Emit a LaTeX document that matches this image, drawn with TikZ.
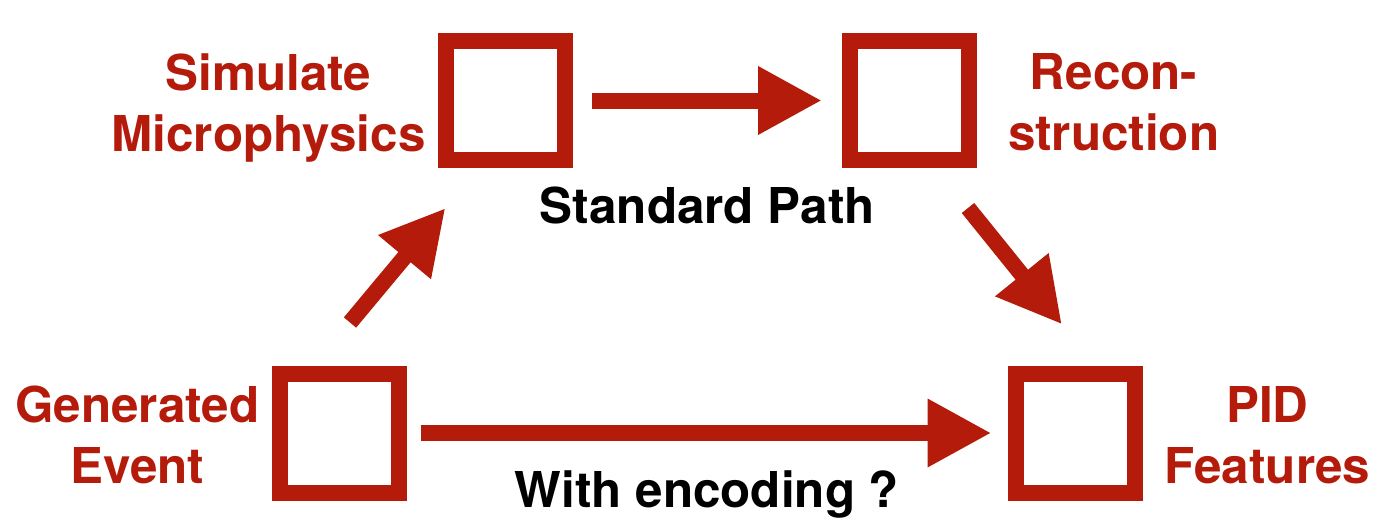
\documentclass[tikz,border=0pt]{standalone}
\usepackage{fontspec}
\setmainfont{TeX Gyre Heros}
\usetikzlibrary{arrows.meta,positioning,calc}
\definecolor{boxred}{RGB}{181,27,11}

\begin{document}
\begin{tikzpicture}[x=0.5pt,y=-0.5pt,
        stage/.style={draw=boxred,line width=8pt,minimum size=59.5pt,inner sep=0pt,outer sep=4pt},
        tag/.style={text=boxred,font=\bfseries\fontsize{24.7}{30.5}\selectfont,align=center,inner sep=0pt,outer sep=0pt},
        note/.style={tag,text=black},
        flow/.style={draw=boxred,line width=8pt,-{Triangle[length=32pt,width=32pt]}}]
    \useasboundingbox (0,0) rectangle (1383,520);

    \node[stage] (gen) at (339,433)     {};
    \node[stage] (sim) at (505,100.5)   {};
    \node[stage] (rec) at (909.5,100.5) {};
    \node[stage] (pid) at (1075,433)    {};

    \node[tag,left=6pt of gen,yshift=-1pt]    (genlbl) {Generated\\Event};
    \node[tag,left=6pt of sim,yshift=-4pt]    (simlbl) {Simulate\\Microphysics};
    \node[tag,right=15.5pt of rec,yshift=-1pt] (reclbl) {Recon-\\struction};
    \node[tag,right=11pt of pid,yshift=-1pt]  (pidlbl) {PID\\Features};

    \node[note,yshift=-52.5pt] (std) at ($(sim)!.5!(rec)$) {Standard Path};

    \draw[flow,shorten <=9.5pt,shorten >=10pt] (sim) -- (rec);
    \draw[flow] ($(gen.north)+(11,-43)$) -- ($(sim.south west)+(8,40)$);
    \draw[flow] ($(rec.south east)+(-9,40)$) -- ($(pid.north)+(-13,-41)$);
    \draw[flow,shorten <=7pt,shorten >=8pt] (gen) -- node[note,below=19pt] (enc) {With encoding ?} (pid);
\end{tikzpicture}
\end{document}
